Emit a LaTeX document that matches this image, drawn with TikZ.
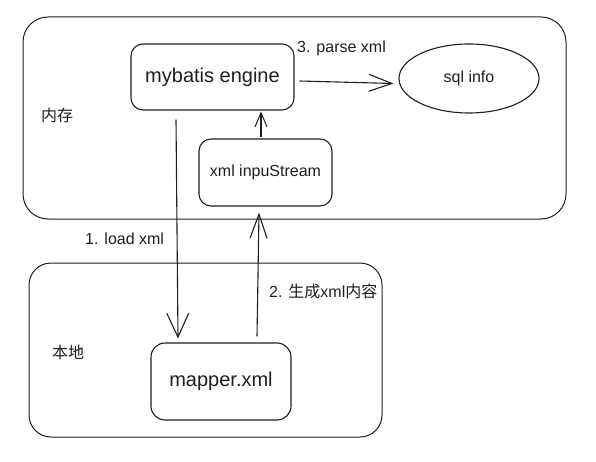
\documentclass[tikz,border=0pt]{standalone}
\usepackage{fontspec}
\setmainfont{Liberation Sans}
\newfontfamily\cjk{Noto Sans CJK SC}
\usetikzlibrary{arrows.meta,shapes.geometric}
\definecolor{ink}{HTML}{1E1E1E}
\tikzset{
  region/.style={draw=ink, line width=1pt, rounded corners=25pt},
  box/.style={draw=ink, line width=1.1pt, rounded corners=12pt, inner sep=0pt, align=center, text=ink},
  bigtext/.style={font=\fontsize{20pt}{24pt}\selectfont},
  smalltext/.style={font=\fontsize{16pt}{19pt}\selectfont},
  lbl/.style={inner sep=0pt, anchor=west, text=ink, font=\fontsize{16pt}{19pt}\selectfont},
  arr/.style={draw=ink, line width=1.1pt},
}
\begin{document}
\begin{tikzpicture}[x=1pt,y=-1pt]
\useasboundingbox (0,0) rectangle (596,462);
% regions
\draw[region] (23,17) rectangle (566,219);
\draw[region, rounded corners=22pt] (29,263) rectangle (382,437);
% nodes
\node[box, bigtext, minimum width=163pt, minimum height=66pt] (engine) at (212.5,77) {mybatis engine};
\node[box, smalltext, minimum width=133pt, minimum height=67pt] (stream) at (265.5,172.5) {xml inpuStream};
\node[box, bigtext, minimum width=140pt, minimum height=77pt, rounded corners=14pt] (mapper) at (221,381.5) {mapper.xml};
\node[draw=ink, line width=1.1pt, ellipse, inner sep=0pt, minimum width=140pt, minimum height=69pt, smalltext, text=ink] (sql) at (469,78.5) {sql info};
% labels
\node[lbl] (memlbl) at (41,115) {\cjk 内存};
\node[lbl] (loclbl) at (52,352) {\cjk 本地};
\node[lbl] (l3) at (297,48) {3. parse xml};
\node[lbl] (l1) at (85,239) {1. load xml};
\node[lbl] (l2) at (269,291) {2. {\cjk 生成}xml{\cjk 内容}};
% connectors
\draw[arr, -{Straight Barb[length=24pt,width=22pt,line width=1.1pt]}]
  ([xshift=-36.5pt,yshift=-9pt]engine.south) -- ([xshift=-43pt,yshift=4pt]mapper.north);
\draw[arr, -{Straight Barb[length=24pt,width=17pt,line width=1.1pt]}]
  ([xshift=36pt,yshift=6pt]mapper.north) -- ([xshift=-6.5pt,yshift=-6pt]stream.south);
\draw[arr, -{Straight Barb[length=14pt,width=12pt,line width=1pt]}]
  ([xshift=-4.5pt,yshift=1pt]stream.north) -- ([xshift=48.5pt,yshift=-1pt]engine.south);
\draw[arr, -{Straight Barb[length=23pt,width=17pt,line width=1.1pt]}]
  ([xshift=5pt,yshift=-4pt]engine.east) -- ([xshift=-5pt,yshift=-5pt]sql.west);
\end{tikzpicture}
\end{document}
